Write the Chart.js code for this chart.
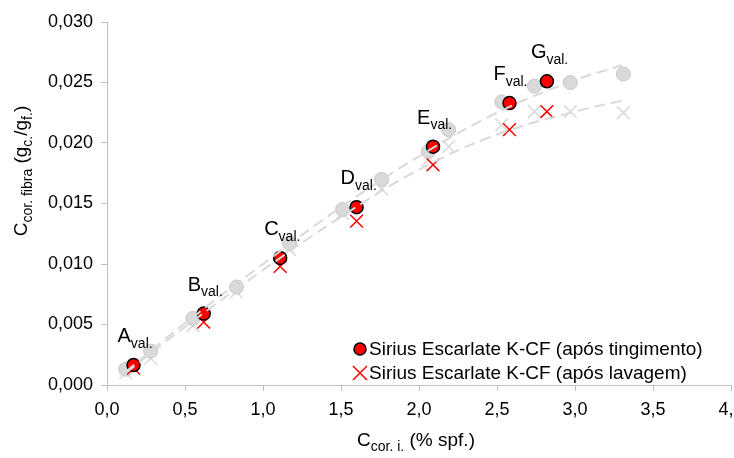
<!DOCTYPE html>
<html>
<head>
<meta charset="UTF-8">
<title>Sirius Escarlate K-CF</title>
<script src="https://cdn.jsdelivr.net/npm/chart.js@4.4.1/dist/chart.umd.min.js"></script>
<style>
  body { margin: 0; background: #fff; }
  #wrap { width: 734px; height: 458px; }
</style>
</head>
<body>
<div id="wrap"><canvas id="grafico" width="734" height="458"></canvas></div>
<script>
// curva de calibracao (pontos cinzentos)
var calX     = [0.12, 0.28, 0.55, 0.83, 1.17, 1.51, 1.76, 2.06, 2.19, 2.53, 2.74, 2.97, 3.31];
var calTing  = [0.0013, 0.0028, 0.0055, 0.0081, 0.0117, 0.0145, 0.0170, 0.0193, 0.0211, 0.0234, 0.0247, 0.0250, 0.0257];
var calLav   = [0.0010, 0.0022, 0.0049, 0.0077, 0.0112, 0.0142, 0.0162, 0.0186, 0.0197, 0.0215, 0.0226, 0.0226, 0.0225];

// linhas de tendencia
var tendX    = [0.12, 0.5, 1.0, 1.5, 2.0, 2.5, 3.0, 3.3];
var tendTing = [0.0011, 0.0051, 0.0100, 0.0147, 0.0189, 0.0225, 0.0252, 0.0264];
var tendLav  = [0.0010, 0.0048, 0.0095, 0.0139, 0.0178, 0.0207, 0.0226, 0.0235];

// pontos de validacao
var valNomes = ['A', 'B', 'C', 'D', 'E', 'F', 'G'];
var valX     = [0.17, 0.62, 1.11, 1.60, 2.09, 2.58, 2.82];
var valTing  = [0.00165, 0.0059, 0.0105, 0.0147, 0.0197, 0.0233, 0.0251];
var valLav   = [0.0014, 0.0052, 0.0098, 0.01355, 0.0182, 0.0211, 0.0226];

var legenda = ['Sirius Escarlate K-CF (após tingimento)', 'Sirius Escarlate K-CF (após lavagem)'];

var FONTE = '"Liberation Sans", Arial, sans-serif';
var CINZA = '#d9d9d9';

function pares(xs, ys) {
  var out = [];
  for (var i = 0; i < xs.length; i++) out.push({ x: xs[i], y: ys[i] });
  return out;
}

// escreve texto com indices
function textoRico(ctx, partes, x, y, tam, alinhar) {
  var tamSub = Math.round(tam * 0.72);
  var larg = 0;
  partes.forEach(function(p) {
    ctx.font = (p[1] ? tamSub : tam) + 'px ' + FONTE;
    larg += ctx.measureText(p[0]).width;
  });
  var cx = alinhar == 'center' ? x - larg / 2 : x;
  ctx.textAlign = 'left';
  ctx.textBaseline = 'alphabetic';
  partes.forEach(function(p) {
    ctx.font = (p[1] ? tamSub : tam) + 'px ' + FONTE;
    ctx.fillText(p[0], cx, y + (p[1] ? tam * 0.28 : 0));
    cx += ctx.measureText(p[0]).width;
  });
}

var extras = {
  id: 'extras',
  afterDraw: function(chart) {
    var ctx = chart.ctx;
    var sx = chart.scales.x, sy = chart.scales.y;
    ctx.save();
    ctx.fillStyle = '#000';

    // rotulos A_val. ... G_val.
    for (var i = 0; i < valNomes.length; i++) {
      var px = sx.getPixelForValue(valX[i]);
      var py = sy.getPixelForValue(valTing[i]);
      textoRico(ctx, [[valNomes[i], false], ['val.', true]], px - 16, py - 23, 20);
    }

    // titulo do eixo x
    textoRico(ctx, [['C', false], ['cor. i.', true], [' (% spf.)', false]], 416, 446, 19, 'center');

    // titulo do eixo y
    ctx.save();
    ctx.translate(27, 171);
    ctx.rotate(-Math.PI / 2);
    textoRico(ctx, [['C', false], ['cor. fibra', true], [' (g', false], ['c.', true], ['/g', false], ['f.', true], [')', false]], 0, 0, 19, 'center');
    ctx.restore();

    // legenda
    ctx.font = '19px ' + FONTE;
    ctx.textAlign = 'left';
    ctx.textBaseline = 'middle';
    ctx.beginPath();
    ctx.arc(360, 349, 6, 0, Math.PI * 2);
    ctx.fillStyle = '#ff0000';
    ctx.fill();
    ctx.lineWidth = 1.5;
    ctx.strokeStyle = '#000';
    ctx.stroke();
    ctx.fillStyle = '#000';
    ctx.fillText(legenda[0], 369, 350);

    ctx.beginPath();
    ctx.moveTo(353, 366); ctx.lineTo(367, 380);
    ctx.moveTo(367, 366); ctx.lineTo(353, 380);
    ctx.strokeStyle = '#ff0000';
    ctx.lineWidth = 1.5;
    ctx.stroke();
    ctx.fillText(legenda[1], 369, 374);
    ctx.restore();
  }
};

var ctx = document.getElementById('grafico').getContext('2d');
var grafico = new Chart(ctx, {
  type: 'scatter',
  data: {
    datasets: [
      {
        label: 'tendencia tingimento',
        type: 'line',
        data: pares(tendX, tendTing),
        borderColor: CINZA,
        borderWidth: 2,
        borderDash: [11, 6],
        pointRadius: 0,
        tension: 0.4,
        fill: false,
        order: 0
      },
      {
        label: 'tendencia lavagem',
        type: 'line',
        data: pares(tendX, tendLav),
        borderColor: CINZA,
        borderWidth: 2,
        borderDash: [11, 6],
        pointRadius: 0,
        tension: 0.4,
        fill: false,
        order: 0
      },
      {
        label: legenda[0],
        data: pares(valX, valTing),
        pointStyle: 'circle',
        pointRadius: 6.5,
        backgroundColor: '#ff0000',
        borderColor: '#000',
        borderWidth: 1.5,
        order: 1
      },
      {
        label: legenda[1],
        data: pares(valX, valLav),
        pointStyle: 'crossRot',
        pointRadius: 9,
        borderColor: '#ff0000',
        borderWidth: 1.5,
        order: 2
      },
      {
        label: 'calibracao tingimento',
        data: pares(calX, calTing),
        pointStyle: 'circle',
        pointRadius: 7,
        backgroundColor: CINZA,
        borderColor: '#c8c8c8',
        borderWidth: 1,
        order: 3
      },
      {
        label: 'calibracao lavagem',
        data: pares(calX, calLav),
        pointStyle: 'crossRot',
        pointRadius: 9,
        borderColor: CINZA,
        borderWidth: 1.5,
        order: 4
      }
    ]
  },
  options: {
    responsive: false,
    animation: false,
    layout: { autoPadding: false, padding: { top: 22, right: 3, left: 0, bottom: 0 } },
    plugins: {
      legend: { display: false },
      tooltip: { enabled: false }
    },
    scales: {
      x: {
        type: 'linear',
        min: 0, max: 4,
        afterFit: function(s) { s.height = 73; s.paddingRight = 0; s.paddingLeft = 0; },
        grid: { drawOnChartArea: false, color: '#bfbfbf', tickLength: 6 },
        border: { color: '#bfbfbf', width: 1 },
        ticks: {
          stepSize: 0.5,
          padding: 8,
          color: '#000',
          font: { family: FONTE, size: 18 },
          callback: function(v) { return v.toFixed(1).replace('.', ','); }
        }
      },
      y: {
        type: 'linear',
        min: 0, max: 0.03,
        afterFit: function(s) { s.width = 107; s.paddingTop = 0; s.paddingBottom = 0; },
        grid: { drawOnChartArea: false, color: '#bfbfbf', tickLength: 6 },
        border: { color: '#bfbfbf', width: 1 },
        ticks: {
          stepSize: 0.005,
          padding: 8,
          color: '#000',
          font: { family: FONTE, size: 18 },
          callback: function(v) { return v.toFixed(3).replace('.', ','); }
        }
      }
    }
  },
  plugins: [extras]
});
</script>
</body>
</html>
